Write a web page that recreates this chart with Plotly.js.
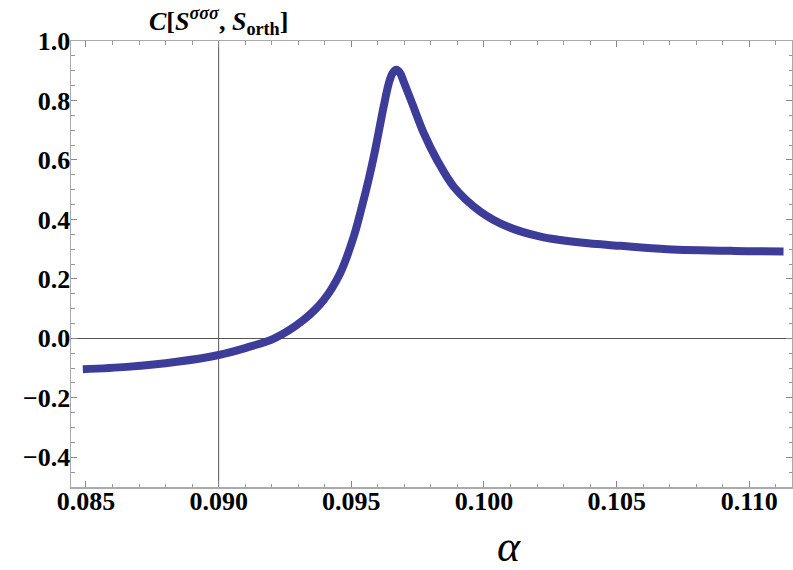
<!DOCTYPE html>
<html>
<head>
<meta charset="utf-8">
<script src="https://cdn.plot.ly/plotly-3.0.1.min.js"></script>
<style>html,body{margin:0;padding:0;background:#fff;}#chart{width:793px;height:570px;}</style>
</head>
<body>
<div id="chart"></div>
<script>
// Data
var alpha = [0.08488, 0.08654, 0.08842, 0.0900, 0.09106, 0.0921, 0.0932, 0.09396, 0.09458,
             0.09509, 0.0954, 0.09565, 0.0959, 0.09622, 0.09641, 0.09655, 0.0967, 0.09684, 0.09697, 0.09729, 0.09773,
             0.09823, 0.09886, 0.09987, 0.10088, 0.10213, 0.10364, 0.10515, 0.10691, 0.10943, 0.11129];
var corr = [-0.104, -0.096, -0.079, -0.056, -0.031, 0.0, 0.062, 0.129, 0.219,
            0.342, 0.443, 0.533, 0.634, 0.78, 0.857, 0.891, 0.903, 0.892, 0.864, 0.791, 0.69,
            0.60, 0.510, 0.426, 0.376, 0.342, 0.322, 0.311, 0.30, 0.294, 0.292];
var xTickVals = [0.085, 0.090, 0.095, 0.100, 0.105, 0.110];
var yTickVals = [-0.4, -0.2, 0.0, 0.2, 0.4, 0.6, 0.8, 1.0];
var axisOriginX = 0.090;
var titleText = '<b><i>C</i>[<i>S</i><sup><i>σσσ</i></sup>, <i>S</i><sub>orth</sub>]</b>';
var xLabel = '<i>α</i>';

var SERIF = 'Liberation Serif, Times New Roman, Times, serif';

var trace = {
  x: alpha, y: corr, type: 'scatter', mode: 'lines',
  line: {color: '#3d3d99', width: 8, shape: 'spline', smoothing: 0.9},
  hoverinfo: 'none'
};

var layout = {
  width: 793, height: 570,
  margin: {l: 71, r: 1, t: 41, b: 83},
  paper_bgcolor: '#fff', plot_bgcolor: '#fff',
  showlegend: false,
  font: {family: SERIF, color: '#000'},
  xaxis: {
    range: [0.084435, 0.111609],
    tickvals: xTickVals, tickformat: '.3f',
    ticks: 'inside', ticklen: 6, tickwidth: 1, tickcolor: '#888',
    minor: {dtick: 0.001, tick0: 0.085, ticks: 'inside', ticklen: 3.5, tickwidth: 1, tickcolor: '#999', showgrid: false},
    showline: true, linecolor: '#aaa', linewidth: 1.5, mirror: 'allticks',
    showgrid: false, zeroline: false,
    tickfont: {family: SERIF, size: 26, color: '#000', weight: 'bold'}, ticklabelstandoff: -10
  },
  yaxis: {
    range: [-0.5, 1.0],
    tickvals: yTickVals, tickformat: '.1f',
    ticks: 'inside', ticklen: 6, tickwidth: 1, tickcolor: '#888',
    minor: {dtick: 0.05, tick0: 0, ticks: 'inside', ticklen: 3.5, tickwidth: 1, tickcolor: '#999', showgrid: false},
    showline: true, linecolor: '#aaa', linewidth: 1.5, mirror: 'allticks',
    showgrid: false, zeroline: true, zerolinecolor: '#555', zerolinewidth: 1,
    tickfont: {family: SERIF, size: 26, color: '#000', weight: 'bold'}, ticklabelstandoff: -6
  },
  shapes: [{
    type: 'line', xref: 'x', yref: 'paper', x0: axisOriginX, x1: axisOriginX, y0: 0, y1: 1,
    line: {color: '#555', width: 1}, layer: 'below'
  }],
  annotations: [
    {text: titleText, xref: 'x', yref: 'paper', x: axisOriginX, y: 1, yanchor: 'bottom', xanchor: 'center',
     yshift: 0, showarrow: false, font: {family: SERIF, size: 26, color: '#000'}},
    {text: xLabel, xref: 'paper', yref: 'paper', x: 0.6075, y: -0.133, xanchor: 'center', yanchor: 'middle',
     showarrow: false, font: {family: SERIF, size: 44, color: '#000'}}
  ]
};

Plotly.newPlot('chart', [trace], layout, {displayModeBar: false, staticPlot: true});
</script>
</body>
</html>
